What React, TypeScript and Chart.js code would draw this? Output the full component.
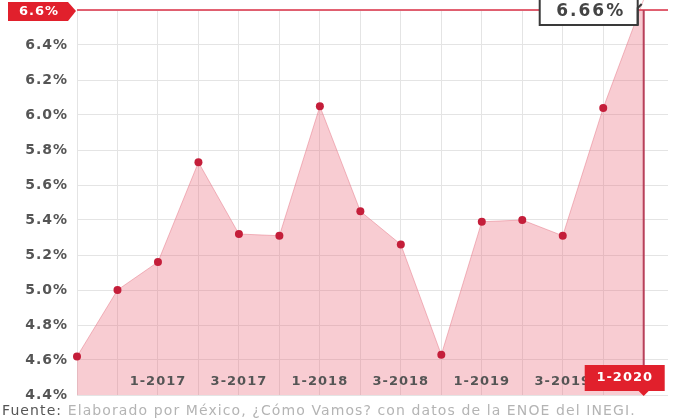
import React, { useEffect, useRef } from "react";
import { Chart, registerables } from "chart.js";

Chart.register(...registerables);

const quarters = [
  "3-2016", "4-2016", "1-2017", "2-2017", "3-2017", "4-2017", "1-2018", "2-2018",
  "3-2018", "4-2018", "1-2019", "2-2019", "3-2019", "4-2019", "1-2020",
];
const rates = [4.62, 5.0, 5.16, 5.73, 5.32, 5.31, 6.05, 5.45, 5.26, 4.63, 5.39, 5.4, 5.31, 6.04, 6.66];
const shownLabels = ["1-2017", "3-2017", "1-2018", "3-2018", "1-2019", "3-2019"];
const yMin = 4.4;
const yMax = 6.6;
const yStep = 0.2;
const highlightIndex = 14;
const crosshairValue = 6.6;
const crosshairLabel = "6.6%";
const tooltipText = "6.66%";
const sourceLead = "Fuente:";
const sourceText = " Elaborado por México, ¿Cómo Vamos? con datos de la ENOE del INEGI.";

const overlayPlugin = {
  id: "overlay",
  beforeDraw(chart: any) {
    chart.ctx.letterSpacing = "1px";
  },
  afterDraw(chart: any) {
    const { ctx, chartArea, scales } = chart;
    const yc = scales.y.getPixelForValue(crosshairValue);
    const xc = scales.x.getPixelForValue(highlightIndex);
    ctx.save();
    ctx.letterSpacing = "0px";
    // horizontal crosshair
    ctx.strokeStyle = "rgba(222,70,90,0.85)";
    ctx.lineWidth = 2;
    ctx.beginPath();
    ctx.moveTo(chartArea.left, yc);
    ctx.lineTo(chartArea.right, yc);
    ctx.stroke();
    // vertical crosshair
    ctx.strokeStyle = "#b8405a";
    ctx.beginPath();
    ctx.moveTo(xc, yc);
    ctx.lineTo(xc, chartArea.bottom - 30);
    ctx.stroke();

    // left flag label
    ctx.fillStyle = "#e1202c";
    ctx.beginPath();
    ctx.moveTo(8, yc - 8);
    ctx.lineTo(68, yc - 8);
    ctx.lineTo(76, yc + 1);
    ctx.lineTo(68, yc + 11);
    ctx.lineTo(8, yc + 11);
    ctx.closePath();
    ctx.fill();
    ctx.fillStyle = "#ffffff";
    ctx.font = "bold 13px 'DejaVu Sans'";
    ctx.textAlign = "center";
    ctx.textBaseline = "middle";
    ctx.letterSpacing = "1px";
    ctx.fillText(crosshairLabel, 39, yc + 2);

    // bottom x label box
    const bTop = chartArea.bottom - 30;
    const bBot = chartArea.bottom - 4;
    ctx.fillStyle = "#e1202c";
    ctx.beginPath();
    ctx.rect(xc - 59, bTop, 80, bBot - bTop);
    ctx.fill();
    ctx.beginPath();
    ctx.moveTo(xc - 5, bBot);
    ctx.lineTo(xc, bBot + 5);
    ctx.lineTo(xc + 5, bBot);
    ctx.closePath();
    ctx.fill();
    ctx.fillStyle = "#ffffff";
    ctx.fillText(quarters[highlightIndex], xc - 19, (bTop + bBot) / 2);

    // tooltip box
    ctx.fillStyle = "#ffffff";
    ctx.strokeStyle = "#3a3a3a";
    ctx.lineWidth = 2;
    ctx.beginPath();
    ctx.rect(xc - 104, yc - 16, 98, 31);
    ctx.fill();
    ctx.stroke();
    // small hook toward the point
    ctx.beginPath();
    ctx.moveTo(xc - 6, yc + 15);
    ctx.lineTo(xc - 6, yc - 2);
    ctx.lineTo(xc - 2, yc - 6);
    ctx.stroke();
    ctx.fillStyle = "#444444";
    ctx.font = "bold 17px 'DejaVu Sans'";
    ctx.letterSpacing = "2px";
    ctx.fillText(tooltipText, xc - 53, yc + 2);
    ctx.restore();
  },
};

export default function App() {
  const ref = useRef<HTMLCanvasElement>(null);
  useEffect(() => {
    const canvas = ref.current!;
    const chart = new Chart(canvas, {
      type: "line",
      data: {
        datasets: [
          {
            data: rates.map((v, i) => ({ x: i, y: v })),
            fill: "start",
            backgroundColor: "rgba(235,110,125,0.35)",
            borderColor: "rgba(230,120,135,0.5)",
            borderWidth: 1,
            tension: 0,
            pointRadius: 4,
            pointBackgroundColor: "#c41e3a",
            pointBorderWidth: 0,
            clip: false as any,
          },
        ],
      },
      options: {
        responsive: false,
        animation: false,
        events: [],
        layout: { padding: { top: 0, right: 8, left: 0, bottom: 0 } },
        plugins: { legend: { display: false }, tooltip: { enabled: false } },
        scales: {
          x: {
            type: "linear",
            min: 0,
            max: 14.6,
            grid: {
              color: (c: any) => (Number.isInteger(c.tick?.value) ? "#e4e4e4" : "rgba(0,0,0,0)"),
              drawTicks: false,
            },
            border: { display: false },
            ticks: {
              z: 1,
              stepSize: 1,
              includeBounds: false,
              autoSkip: false,
              maxRotation: 0,
              mirror: true,
              padding: 6,
              color: "#555555",
              font: { family: "'DejaVu Sans'", size: 13, weight: "bold" },
              callback: (v: any) => {
                const q = quarters[v as number];
                return Number.isInteger(v) && shownLabels.includes(q) ? q : "";
              },
            },
            afterFit: (s: any) => {
              s.height = 25;
              s.paddingLeft = 0;
              s.paddingRight = 0;
            },
          },
          y: {
            min: yMin,
            max: yMax,
            grid: { color: "#e4e4e4", drawTicks: false },
            border: { color: "#e4e4e4" },
            ticks: {
              stepSize: yStep,
              padding: 9,
              color: (c: any) => (Math.abs(c.tick.value - crosshairValue) < 1e-6 ? "rgba(0,0,0,0)" : "#555555"),
              font: { family: "'DejaVu Sans'", size: 14, weight: "bold" },
              callback: (v: any) => Number(v).toFixed(1) + "%",
            },
            afterFit: (s: any) => {
              s.width = 77;
              s.paddingTop = 10;
              s.paddingBottom = 0;
            },
          },
        },
      },
      plugins: [overlayPlugin],
    } as any);
    return () => chart.destroy();
  }, []);

  return (
    <div
      style={{
        position: "fixed",
        left: 0,
        top: 0,
        width: 676,
        height: 420,
        background: "#ffffff",
        overflow: "hidden",
      }}
    >
      <canvas ref={ref} width={676} height={420} style={{ display: "block" }} />
      <div
        style={{
          position: "absolute",
          left: 2,
          top: 402,
          whiteSpace: "nowrap",
          fontFamily: "'DejaVu Sans', sans-serif",
          fontSize: 14,
          letterSpacing: "1.1px",
          color: "#b4b4b4",
          lineHeight: "16px",
        }}
      >
        <span style={{ color: "#555555" }}>{sourceLead}</span>
        {sourceText}
      </div>
    </div>
  );
}
